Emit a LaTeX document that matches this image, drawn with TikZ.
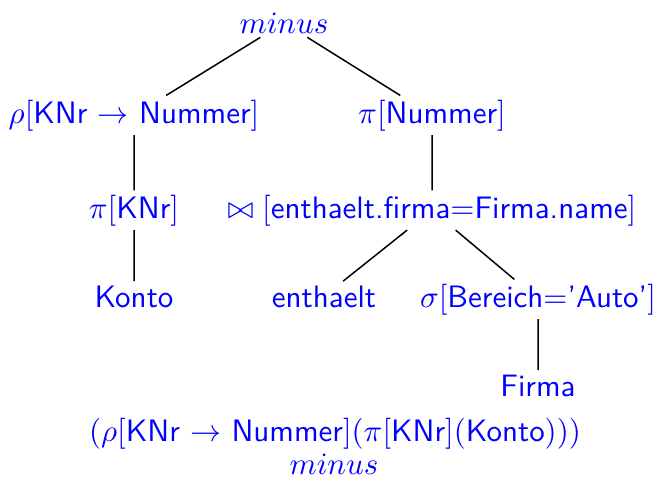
\documentclass[tikz,border=0pt]{standalone}
\begin{document}
\begin{tikzpicture}[x=1pt,y=-1pt,
  lbl/.style={text=blue, font=\sffamily, anchor=base, inner sep=0.12em, scale=3.1, transform shape},
  edge/.style={draw=black, line width=1.5pt}]
\useasboundingbox (0,0) rectangle (658,479);
\node[lbl] (root) at (284,33) {$minus$};
\node[lbl] (rho) at (134,123) {$\rho[$KNr $\rightarrow$ Nummer$]$};
\node[lbl] (pinum) at (432,123) {$\pi[$Nummer$]$};
\node[lbl] (piknr) at (134,218) {$\pi[$KNr$]$};
\node[lbl] (join) at (432,218) {$\bowtie[$enthaelt.firma$=$Firma.name$]$};
\node[lbl] (konto) at (134,307) {Konto};
\node[lbl] (enth) at (324,307) {enthaelt};
\node[lbl] (sigma) at (538,307) {$\sigma[$Bereich$=$'Auto'$]$};
\node[lbl] (firma) at (538,396) {Firma};
\node[lbl] (expr) at (335,441) {$($$\rho[$KNr $\rightarrow$ Nummer$]($$\pi[$KNr$]($Konto$)))$};
\node[lbl] (minus2) at (334,474) {$minus$};
\draw[edge] (root) -- (rho);
\draw[edge] (root) -- (pinum);
\draw[edge] (rho) -- (piknr);
\draw[edge] (pinum) -- (join);
\draw[edge] (piknr) -- (konto);
\draw[edge] (join) -- (enth);
\draw[edge] (join) -- (sigma);
\draw[edge] (sigma) -- (firma);
\end{tikzpicture}
\end{document}
